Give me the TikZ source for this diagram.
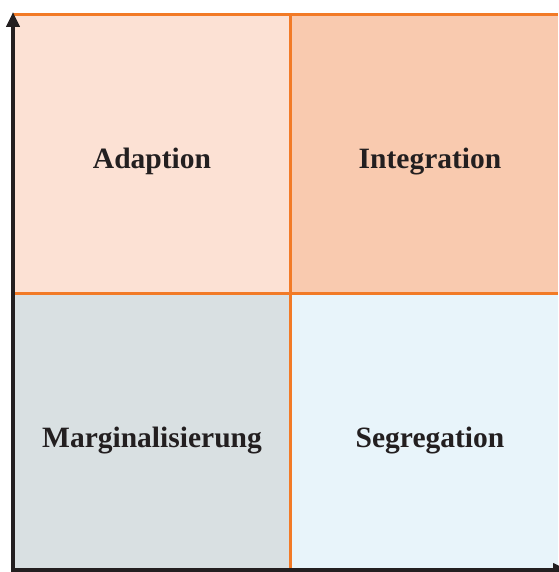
\documentclass[tikz,border=0pt]{standalone}
\usepackage{fontspec}
\setmainfont{Liberation Serif}
\usetikzlibrary{arrows.meta}
\definecolor{gridline}{HTML}{F27A26}
\definecolor{axisblack}{HTML}{231F20}
\definecolor{adaptfill}{HTML}{FCE1D4}
\definecolor{integfill}{HTML}{F9CAAF}
\definecolor{margfill}{HTML}{D9E0E2}
\definecolor{segfill}{HTML}{E8F4FA}
\begin{document}
\begin{tikzpicture}[x=1pt,y=-1pt,
	quadrant/.style={anchor=base,text=axisblack,font=\fontsize{29.5}{32}\selectfont\bfseries},
	axis/.style={draw=axisblack,line width=3.8pt,-{Triangle[width=13pt,length=15pt]}}]
	\def\width{558}
	\def\height{572}
	\def\midx{290}
	\def\midy{293}
	\useasboundingbox (0,0) rectangle (\width,\height);
	% cells
		\foreach \xa/\ya/\xb/\yb/\c in {13/14.5/\midx/\midy/adaptfill, \midx/14.5/\width/\midy/integfill, 13/\midy/\midx/\height/margfill, \midx/\midy/\width/\height/segfill}
			\fill [\c] (\xa,\ya) rectangle (\xb,\yb);
	% orange lines
		\draw [gridline,line width=3pt] (13,14.5) -- (\width,14.5) (13,\midy) -- (\width,\midy) (\midx,14.5) -- (\midx,\height);
	% labels
		\node [quadrant] (adaption) at (152,168) {Adaption};
		\node [quadrant] (integration) at (430,168) {Integration};
		\node [quadrant] (marginal) at (152,447) {Marginalisierung};
		\node [quadrant] (segregation) at (430,447) {Segregation};
	% axes
		\coordinate (origin) at (13,570);
		\coordinate (ytip) at (13,12);
		\coordinate (xtip) at (568,570);
		\draw [axis] (13,\height+2) -- (ytip);
		\draw [axis] (11,570) -- (xtip);
	\end{tikzpicture}
\end{document}
